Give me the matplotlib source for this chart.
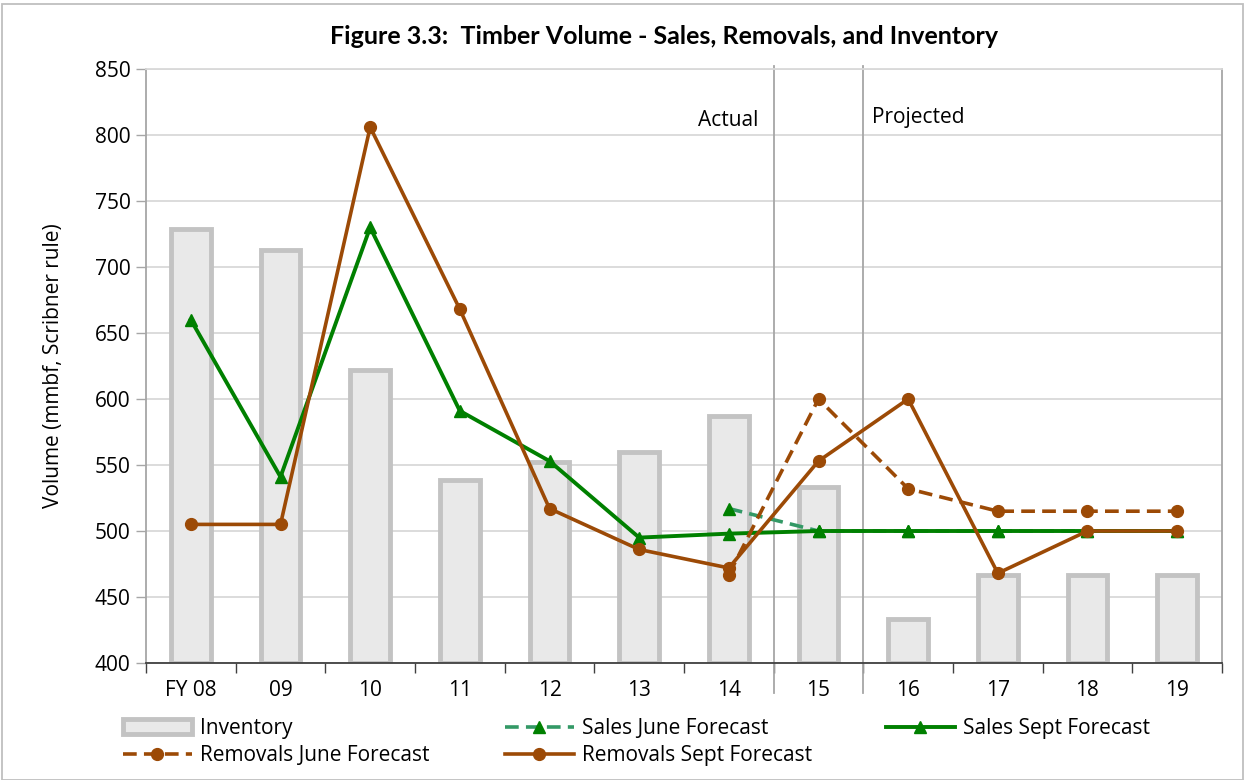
import matplotlib
matplotlib.use("Agg")
import matplotlib.pyplot as plt
import numpy as np
from matplotlib.patches import Rectangle
from matplotlib.lines import Line2D
from matplotlib.patches import Patch

categories = ["FY 08", "09", "10", "11", "12", "13", "14", "15", "16", "17", "18", "19"]
inventory = [729, 713, 622, 539, 552, 560, 587, 533, 433, 467, 467, 467]
sales_june = [np.nan, np.nan, np.nan, np.nan, np.nan, np.nan, 517, 500, 500, 500, 500, 500]
sales_sept = [660, 541, 730, 591, 553, 495, 498, 500, 500, 500, 500, 500]
removals_june = [np.nan, np.nan, np.nan, np.nan, np.nan, np.nan, 467, 600, 532, 515, 515, 515]
removals_sept = [505, 505, 806, 668, 517, 486, 472, 553, 600, 468, 500, 500]
y_min, y_max = 400, 850

plt.rcParams['font.family'] = ['Open Sans', 'DejaVu Sans']
FS = 15

fig = plt.figure(figsize=(12.45, 7.8), dpi=100)
ax = fig.add_axes([146/1245, 1-663/780, (1222-146)/1245, (663-69)/780])

x = np.arange(len(categories))
brown = '#9C4A06'
green = '#008000'
june_green = '#339966'
DASH = (3.8, 2.0)

ax.bar(x, np.array(inventory) - y_min, bottom=y_min, width=0.44, color='#E9E9E9',
       edgecolor='#C3C3C3', linewidth=3.5, zorder=2)
ax.plot(x, sales_june, color=june_green, lw=2.6, dashes=DASH, marker='^',
        markersize=9, markerfacecolor=green, markeredgecolor=green, zorder=3)
ax.plot(x, sales_sept, color=green, lw=2.8, marker='^', markersize=9,
        markerfacecolor=green, markeredgecolor=green, zorder=4)
ax.plot(x, removals_june, color=brown, lw=2.6, dashes=DASH, marker='o',
        markersize=8.5, markerfacecolor=brown, markeredgecolor=brown, zorder=5)
ax.plot(x, removals_sept, color=brown, lw=2.6, marker='o', markersize=8.5,
        markerfacecolor=brown, markeredgecolor=brown, zorder=6)

ax.set_xlim(-0.5, len(categories) - 0.5)
ax.set_ylim(y_min, y_max)
ax.set_yticks(np.arange(400, 851, 50))
ax.set_xticks(x)
ax.set_xticklabels(categories)
ax.set_xticks(np.arange(-0.5, len(categories), 1), minor=True)
ax.tick_params(axis='x', which='major', length=0, pad=12, labelsize=FS)
ax.tick_params(axis='x', which='minor', length=7, width=1, color='#404040', direction='out')
ax.tick_params(axis='y', length=7, width=1, color='#A6A6A6', labelsize=FS, pad=4)
ax.grid(axis='y', color='#D9D9D9', lw=1.3, zorder=0)
ax.set_axisbelow(True)
for s in ['left', 'right', 'top']:
    ax.spines[s].set_color('#A6A6A6')
    ax.spines[s].set_linewidth(1.3)
ax.spines['top'].set_color('#D9D9D9')
ax.spines['bottom'].set_color('#404040')
ax.spines['bottom'].set_linewidth(1.3)
ax.set_ylabel('Volume (mmbf, Scribner rule)', fontsize=FS, labelpad=22)

for xv in [6.5, 7.5]:
    ax.axvline(xv, ymin=-0.05, ymax=1.005, color='#A6A6A6', lw=1.3, clip_on=False, zorder=1)

ax.text(6.33, 811, 'Actual', ha='right', va='center', fontsize=FS)
ax.text(7.6, 813, 'Projected', ha='left', va='center', fontsize=FS)

fig.text(664/1245, 1-37/780, 'Figure 3.3:  Timber Volume - Sales, Removals, and Inventory',
         ha='center', va='center', fontsize=18, fontweight='bold', family=['Lato', 'DejaVu Sans'])

h_inv = Patch(facecolor='#E9E9E9', edgecolor='#C3C3C3', linewidth=3.5)
h_sj = Line2D([], [], color=june_green, lw=2.6, dashes=DASH, marker='^', markersize=9,
              markerfacecolor=green, markeredgecolor=green)
h_ss = Line2D([], [], color=green, lw=2.8, marker='^', markersize=9,
              markerfacecolor=green, markeredgecolor=green)
h_rj = Line2D([], [], color=brown, lw=2.6, dashes=DASH, marker='o', markersize=8.5,
              markerfacecolor=brown, markeredgecolor=brown)
h_rs = Line2D([], [], color=brown, lw=2.6, marker='o', markersize=8.5,
              markerfacecolor=brown, markeredgecolor=brown)

cols = [([h_inv, h_rj], ['Inventory', 'Removals June Forecast'], 123),
        ([h_sj, h_rs], ['Sales June Forecast', 'Removals Sept Forecast'], 505),
        ([h_ss], ['Sales Sept Forecast'], 886)]
for handles, labels, px in cols:
    fig.legend(handles, labels, loc='upper left',
               bbox_to_anchor=(px/1245, 1-718/780), frameon=False,
               fontsize=FS, handlelength=3.3, handletextpad=0.4,
               labelspacing=0.3, borderpad=0, borderaxespad=0)

fig.patches.append(Rectangle((2/1245, 0), 1-4/1245, 1-4/780, transform=fig.transFigure,
                             fill=False, edgecolor='#BFBFBF', lw=1.3))

fig.savefig('out.png', dpi=100)
